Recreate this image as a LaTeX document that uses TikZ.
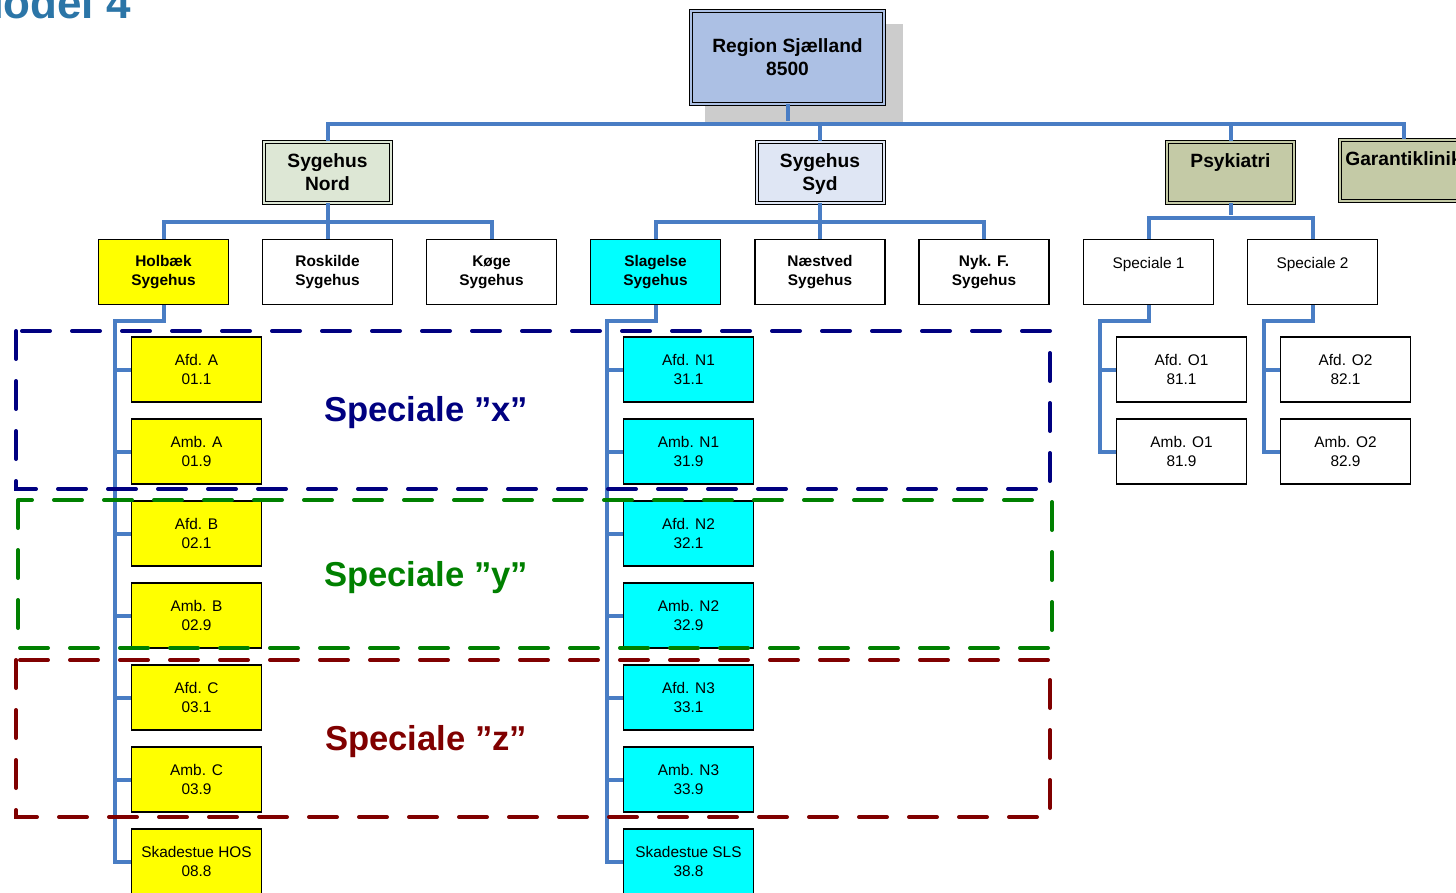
\documentclass[tikz,border=0pt]{standalone}
\usepackage{fontspec}
\setmainfont{Liberation Sans}
\usetikzlibrary{positioning}
\definecolor{cTitle}{RGB}{43,117,167}
\definecolor{cRegion}{RGB}{172,192,228}
\definecolor{cShadow}{gray}{0.8}
\definecolor{cNord}{RGB}{221,231,213}
\definecolor{cSyd}{RGB}{223,230,244}
\definecolor{cPsyk}{RGB}{196,202,166}
\definecolor{cYellow}{RGB}{255,255,0}
\definecolor{cCyan}{RGB}{0,255,255}
\definecolor{cConn}{RGB}{73,125,196}
\definecolor{cNavy}{RGB}{0,0,128}
\definecolor{cGreen}{RGB}{0,128,0}
\definecolor{cRed}{RGB}{128,0,0}
\tikzset{
    dbox/.style={draw, line width=0.5pt, double=#1, double distance=1pt, fill=#1, inner sep=0pt,
        minimum width=63.5pt, minimum height=30.5pt, align=center, text depth=0pt,
        font=\fontsize{9.6}{11.5}\selectfont\bfseries},
    hbox/.style={draw, line width=0.6pt, fill=#1, inner sep=0pt, minimum width=65pt, minimum height=32.5pt,
        align=center, font=\fontsize{7.7}{9.5}\selectfont},
    hbox/.default=white,
    hosp/.style={hbox=#1, font=\fontsize{7.7}{9.5}\selectfont\bfseries},
    hosp/.default=white,
    conn/.style={draw=cConn, line width=2pt},
    frame/.style={draw=#1, line width=2pt, dash pattern=on 14pt off 11pt, line cap=round},
    speclabel/.style={text=#1, font=\fontsize{17.3}{20}\selectfont\bfseries}
}
\begin{document}
\begin{tikzpicture}[x=0.5pt,y=-0.5pt]
\useasboundingbox (0,0) rectangle (1456,893);
\clip (0,0) rectangle (1456,893);
\node[text=cTitle, font=\fontsize{22}{26}\selectfont\bfseries, anchor=base west] (title) at (-40,19) {Model 4};
% top level
\fill[cShadow] (705,24) rectangle (903,122);
\node[dbox=cRegion, minimum width=96.5pt, minimum height=46.5pt] (region) at (787.5,57.5) {Region Sjælland\\8500};
\node[dbox=cNord] (nord) at (327.5,172.5) {Sygehus\\Nord};
\node[dbox=cSyd] (syd) at (820,172.5) {Sygehus\\Syd};
\node[dbox=cPsyk] (psyk) at (1230.5,172.5) {Psykiatri\\~};
\node[dbox=cPsyk] (garanti) at (1403.5,170.5) {Garantiklinik\\~};
% hospitals
\node[hosp=cYellow] (holbaek) at (163.5,272) {Holbæk\\Sygehus};
\node[hosp] (roskilde) at (327.5,272) {Roskilde\\Sygehus};
\node[hosp] (koege) at (491.5,272) {Køge\\Sygehus};
\node[hosp=cCyan] (slagelse) at (655.5,272) {Slagelse\\Sygehus};
\node[hosp] (naestved) at (820,272) {Næstved\\Sygehus};
\node[hosp] (nykf) at (984,272) {Nyk. F.\\Sygehus};
\node[hbox] (spec1) at (1148.5,272) {Speciale 1\\~};
\node[hbox] (spec2) at (1312.5,272) {Speciale 2\\~};
% Holbaek units
\node[hbox=cYellow] (afdA) at (196.5,369.5) {Afd. A\\01.1};
\node[hbox=cYellow] (ambA) at (196.5,451.5) {Amb. A\\01.9};
\node[hbox=cYellow] (afdB) at (196.5,533.5) {Afd. B\\02.1};
\node[hbox=cYellow] (ambB) at (196.5,615.5) {Amb. B\\02.9};
\node[hbox=cYellow] (afdC) at (196.5,697.5) {Afd. C\\03.1};
\node[hbox=cYellow] (ambC) at (196.5,779.5) {Amb. C\\03.9};
\node[hbox=cYellow] (skadHOS) at (196.5,861.5) {Skadestue HOS\\08.8};
% Slagelse units
\node[hbox=cCyan] (afdN1) at (688.5,369.5) {Afd. N1\\31.1};
\node[hbox=cCyan] (ambN1) at (688.5,451.5) {Amb. N1\\31.9};
\node[hbox=cCyan] (afdN2) at (688.5,533.5) {Afd. N2\\32.1};
\node[hbox=cCyan] (ambN2) at (688.5,615.5) {Amb. N2\\32.9};
\node[hbox=cCyan] (afdN3) at (688.5,697.5) {Afd. N3\\33.1};
\node[hbox=cCyan] (ambN3) at (688.5,779.5) {Amb. N3\\33.9};
\node[hbox=cCyan] (skadSLS) at (688.5,861.5) {Skadestue SLS\\38.8};
% Psykiatri units
\node[hbox] (afdO1) at (1181.5,369.5) {Afd. O1\\81.1};
\node[hbox] (ambO1) at (1181.5,451.5) {Amb. O1\\81.9};
\node[hbox] (afdO2) at (1345.5,369.5) {Afd. O2\\82.1};
\node[hbox] (ambO2) at (1345.5,451.5) {Amb. O2\\82.9};
% connectors
\draw[conn] (nord.north) -- ++(0,-17) -| (garanti.north)
    (region.south) -- ++(0,17) (syd.north) -- ++(0,-17) (psyk.north) -- ++(0,-17);
\draw[conn] (holbaek.north) -- ++(0,-17) -| (koege.north) (nord.south) -- (roskilde.north);
\draw[conn] (slagelse.north) -- ++(0,-17) -| (nykf.north) (syd.south) -- (naestved.north);
\draw[conn] (spec1.north) -- ++(0,-21) -| (spec2.north) (psyk.south) -- ++(0,12);
\draw[conn] (holbaek.south) -- ++(0,16) -| ([xshift=-8pt]skadHOS.west) -- (skadHOS.west)
    (afdA.west) -- ++(-8pt,0) (ambA.west) -- ++(-8pt,0) (afdB.west) -- ++(-8pt,0)
    (ambB.west) -- ++(-8pt,0) (afdC.west) -- ++(-8pt,0) (ambC.west) -- ++(-8pt,0);
\draw[conn] (slagelse.south) -- ++(0,16) -| ([xshift=-8pt]skadSLS.west) -- (skadSLS.west)
    (afdN1.west) -- ++(-8pt,0) (ambN1.west) -- ++(-8pt,0) (afdN2.west) -- ++(-8pt,0)
    (ambN2.west) -- ++(-8pt,0) (afdN3.west) -- ++(-8pt,0) (ambN3.west) -- ++(-8pt,0);
\draw[conn] (spec1.south) -- ++(0,16) -| ([xshift=-8pt]ambO1.west) -- (ambO1.west)
    (afdO1.west) -- ++(-8pt,0);
\draw[conn] (spec2.south) -- ++(0,16) -| ([xshift=-8pt]ambO2.west) -- (ambO2.west)
    (afdO2.west) -- ++(-8pt,0);
% speciale frames
\draw[frame=cNavy] (16,331) rectangle (1050,489);
\draw[frame=cGreen] (18,500) rectangle (1052,648);
\draw[frame=cRed] (16,660) rectangle (1050,817);
\node[speclabel=cNavy] (specX) at (426,413) {Speciale ”x”};
\node[speclabel=cGreen] (specY) at (426,578) {Speciale ”y”};
\node[speclabel=cRed] (specZ) at (426,742) {Speciale ”z”};
\end{tikzpicture}
\end{document}
